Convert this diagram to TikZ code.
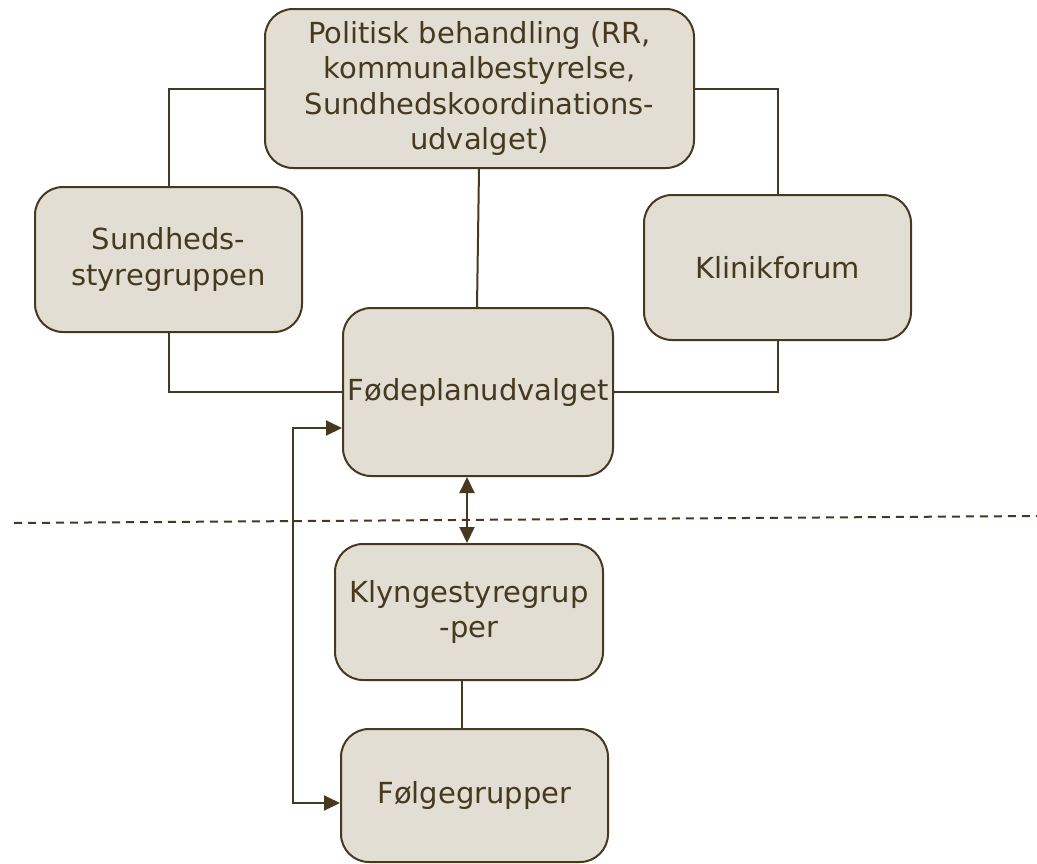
\documentclass[tikz,border=0pt]{standalone}
\usepackage{fontspec}
\setmainfont{DejaVu Sans}
\usetikzlibrary{arrows.meta}
\definecolor{boxfill}{HTML}{E2DED4}
\definecolor{ink}{HTML}{46391F}
\begin{document}
\begin{tikzpicture}[x=1pt,y=-1pt,
  box/.style={draw=ink,fill=boxfill,line width=2pt,rounded corners=28pt,
    text=ink,align=center,font=\fontsize{29}{35.5}\selectfont,inner sep=0pt},
  conn/.style={draw=ink,line width=2pt},
  tips/.style={{Triangle[length=16pt,width=15pt]}-{Triangle[length=16pt,width=15pt]}}]
\useasboundingbox (0,0) rectangle (1037,863);
\node[box,minimum width=429pt,minimum height=159pt] (pol) at (479.5,88.5)
  {Politisk behandling (RR,\\kommunalbestyrelse,\\Sundhedskoordinations-\\udvalget)};
\node[box,minimum width=267pt,minimum height=145pt] (sun) at (168.5,259.5)
  {Sundheds-\\styregruppen};
\node[box,minimum width=267pt,minimum height=145pt] (kli) at (777.5,267.5)
  {Klinikforum};
\node[box,minimum width=270pt,minimum height=168pt] (fod) at (478,392)
  {Fødeplanudvalget};
\node[box,minimum width=268pt,minimum height=136pt] (kly) at (469,612)
  {Klyngestyregrup\\-per};
\node[box,minimum width=267pt,minimum height=133pt] (fol) at (474.5,795.5)
  {Følgegrupper};
% connectors
\draw[conn] (pol.west) -| (sun.north);
\draw[conn] (sun.south) |- (fod.west);
\draw[conn] (pol.east) -| (kli.north);
\draw[conn] (kli.south) |- (fod.east);
\draw[conn] (pol.south -| 479,0) -- (fod.north -| 477,0);
\draw[conn,tips] (fod.south -| 467,0) -- (kly.north -| 467,0);
\draw[conn] (kly.south -| 462,0) -- (fol.north -| 462,0);
\coordinate (lt) at (293,428);
\coordinate (lb) at (293,803);
\draw[conn,tips] (fod.west |- lt) -- (lt) -- (lb) -- (fol.west |- lb);
% dashed separator
\coordinate (d1) at (14,523);
\coordinate (d2) at (1037,516);
\draw[ink,line width=2pt,dash pattern=on 8pt off 6pt] (d1) -- (d2);
\end{tikzpicture}
\end{document}
